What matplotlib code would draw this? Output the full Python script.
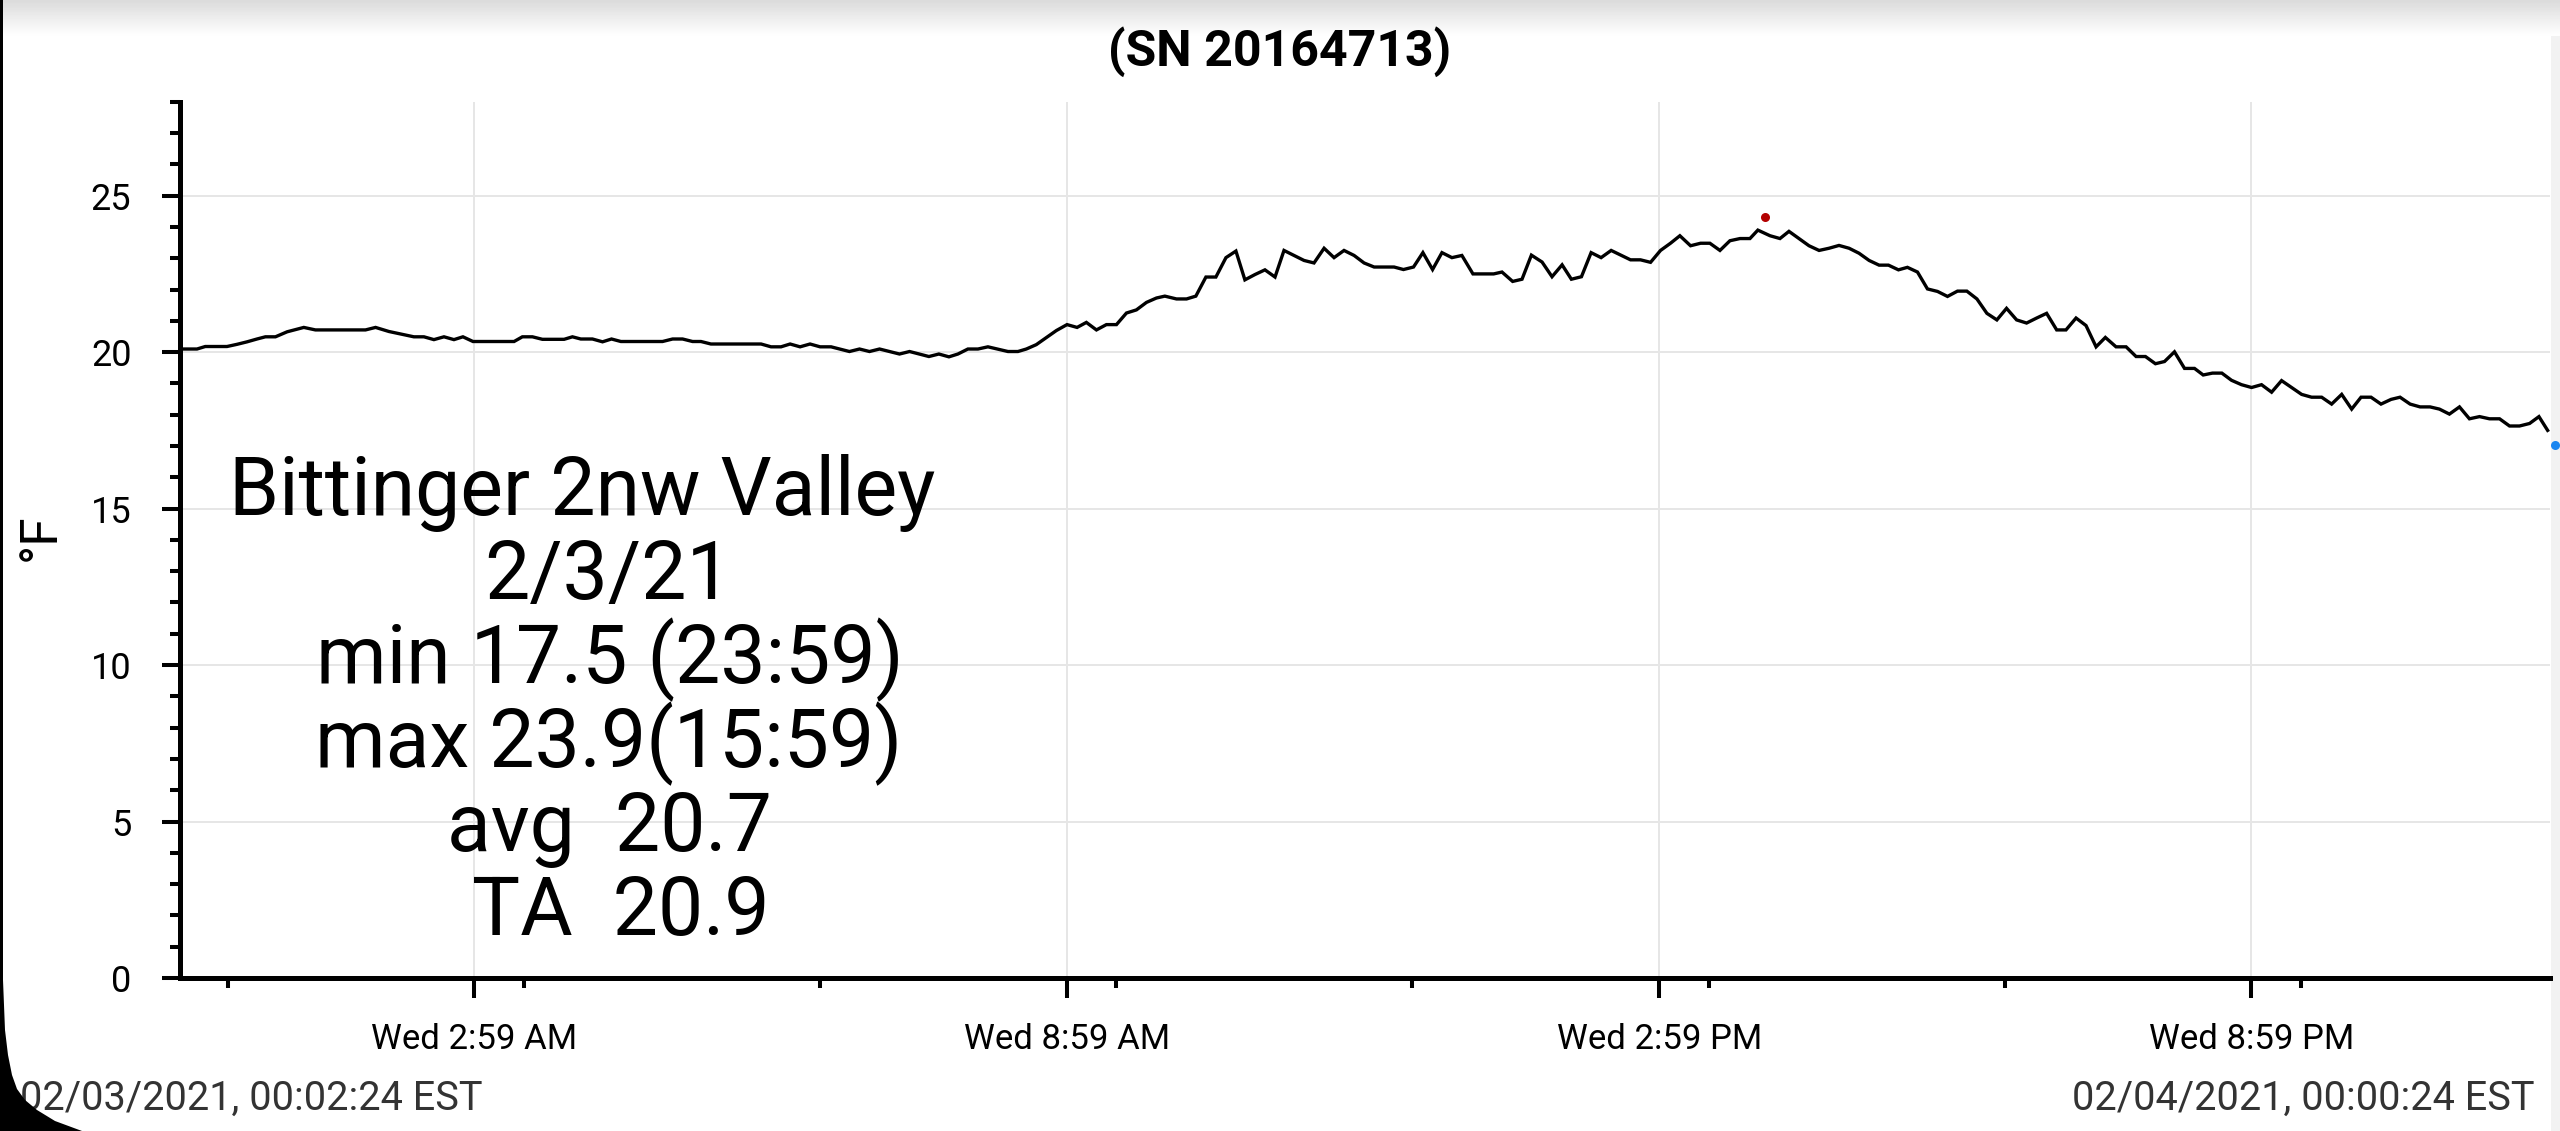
import numpy as np
import matplotlib
matplotlib.use("Agg")
import matplotlib.pyplot as plt
from matplotlib.patches import Rectangle, Polygon

plt.rcParams['font.family'] = ['Roboto', 'DejaVu Sans']

# ---------------- data (hours since midnight, °F) ----------------
hours = [
    0.04, 0.172, 0.256, 0.476, 0.578, 0.68, 0.78, 0.865, 0.967, 1.085, 1.254, 1.372, 1.879, 1.981,
    2.116, 2.369, 2.471, 2.572, 2.674, 2.775, 2.866, 2.968, 3.384, 3.468, 3.570, 3.671, 3.891, 3.975,
    4.06, 4.178, 4.280, 4.371, 4.466, 4.888, 4.990, 5.091, 5.192, 5.277, 5.378, 5.886, 5.987, 6.088,
    6.180, 6.281, 6.382, 6.484, 6.595, 6.781, 6.883, 6.984, 7.086, 7.288, 7.390, 7.586, 7.687, 7.789,
    7.880, 7.981, 8.083, 8.184,
    8.387, 8.488, 8.573, 8.674, 8.877, 8.985, 9.087, 9.181, 9.283, 9.384, 9.486, 9.587, 9.688, 9.790,
    9.891, 9.976, 10.094, 10.196, 10.290, 10.392, 10.493, 10.595, 10.696, 10.787, 10.889, 10.990,
    11.092, 11.183, 11.284, 11.386, 11.487, 11.589, 11.690, 11.791, 11.893, 11.994, 12.096, 12.298,
    12.393,
    12.495, 12.590, 12.688, 12.783, 12.884, 12.985, 13.097, 13.307, 13.391, 13.499, 13.594, 13.689,
    13.797, 13.898, 14.000, 14.094, 14.196, 14.294, 14.395, 14.497, 14.693, 14.794, 14.896, 14.997,
    15.098, 15.193, 15.301, 15.403, 15.497, 15.599, 15.700, 15.802, 15.903, 15.983, 16.106, 16.207,
    16.298, 16.400, 16.501,
    16.603, 16.704, 16.805, 16.907, 17.008, 17.110, 17.211, 17.306, 17.407, 17.498, 17.600, 17.701,
    17.803, 17.904, 18.005, 18.100, 18.202, 18.303, 18.404, 18.502, 18.604, 18.705, 18.807, 18.908,
    19.010, 19.104, 19.206, 19.307, 19.409, 19.503, 19.611, 19.713, 19.814, 19.909, 20.010, 20.102,
    20.203, 20.305, 20.406,
    20.494, 20.588, 20.683, 20.781, 20.882, 20.984, 21.085, 21.187, 21.288, 21.389, 21.491, 21.592,
    21.694, 21.795, 21.897, 21.998, 22.093, 22.194, 22.295, 22.397, 22.488, 22.590, 22.691, 22.792,
    22.887, 22.988, 23.090, 23.191, 23.293, 23.394, 23.496, 23.597, 23.698, 23.800, 23.895, 23.983,
]
temps = [
    20.10, 20.10, 20.18, 20.18, 20.25, 20.33, 20.42, 20.49, 20.49, 20.65, 20.79, 20.71, 20.71, 20.79,
    20.66, 20.49, 20.49, 20.40, 20.49, 20.40, 20.49, 20.34, 20.34, 20.49, 20.49, 20.41, 20.41, 20.49,
    20.42, 20.42, 20.33, 20.42, 20.34, 20.34, 20.42, 20.42, 20.34, 20.34, 20.26, 20.26, 20.17, 20.17,
    20.26, 20.17, 20.26, 20.17, 20.17, 20.02, 20.10, 20.02, 20.10, 19.94, 20.02, 19.86, 19.94, 19.85,
    19.94, 20.10, 20.10, 20.17,
    20.02, 20.02, 20.10, 20.24, 20.69, 20.88, 20.79, 20.95, 20.71, 20.88, 20.88, 21.25, 21.35, 21.59,
    21.73, 21.79, 21.70, 21.70, 21.79, 22.40, 22.40, 23.02, 23.23, 22.31, 22.48, 22.63,
    22.40, 23.25, 23.09, 22.93, 22.85, 23.32, 23.02, 23.25, 23.09, 22.85, 22.72, 22.72,
    22.64,
    22.72, 23.18, 22.64, 23.18, 23.02, 23.09, 22.50, 22.50, 22.56, 22.26, 22.33, 23.10,
    22.88, 22.41, 22.79, 22.33, 22.41, 23.18, 23.02, 23.25, 22.95, 22.95, 22.87, 23.25,
    23.48, 23.72, 23.40, 23.48, 23.48, 23.25, 23.56, 23.63, 23.63, 23.90, 23.72, 23.63,
    23.86, 23.63, 23.40,
    23.25, 23.32, 23.41, 23.32, 23.16, 22.93, 22.78, 22.78, 22.63, 22.71, 22.56, 22.02,
    21.94, 21.78, 21.95, 21.95, 21.70, 21.24, 21.03, 21.40, 21.03, 20.93, 21.09, 21.24,
    20.71, 20.71, 21.09, 20.85, 20.17, 20.47, 20.17, 20.17, 19.86, 19.86, 19.63, 19.70,
    20.01, 19.48, 19.48,
    19.27, 19.33, 19.33, 19.10, 18.96, 18.87, 18.96, 18.72, 19.09, 18.87, 18.65, 18.56,
    18.56, 18.34, 18.65, 18.18, 18.56, 18.56, 18.34, 18.49, 18.56, 18.34, 18.25, 18.25,
    18.18, 18.02, 18.25, 17.87, 17.94, 17.87, 17.87, 17.64, 17.64, 17.72, 17.94, 17.50,
]

max_marker = (16.06, 24.32)   # red dot
min_marker = (24.06, 17.03)   # blue dot (right edge)

x_range = (0.0, 24.007)
y_range = (0, 28)
major_x = [2.983, 8.983, 14.983, 20.983]
major_x_labels = ["Wed 2:59 AM", "Wed 8:59 AM", "Wed 2:59 PM", "Wed 8:59 PM"]
minor_x = [0.483, 3.483, 6.483, 9.483, 12.483, 15.483, 18.483, 21.483]
major_y = [0, 5, 10, 15, 20, 25]
minor_y = list(range(0, 29))

title = "(SN 20164713)"
ylabel = "°F"
info_lines = ["Bittinger 2nw Valley", "2/3/21", "min 17.5 (23:59)", "max 23.9(15:59)",
              "avg  20.7", "TA  20.9"]
start_label = "02/03/2021, 00:02:24 EST"
end_label = "02/04/2021, 00:00:24 EST"

# ---------------- figure ----------------
W, H = 2560, 1131
fig = plt.figure(figsize=(W / 100, H / 100), dpi=100)
fig.patch.set_facecolor("white")

ax_l, ax_r, ax_t, ax_b = 180, 2550, 101.8, 978
ax = fig.add_axes([ax_l / W, 1 - ax_b / H, (ax_r - ax_l) / W, (ax_b - ax_t) / H])

ax.plot(hours, temps, color="black", lw=2.4, solid_joinstyle="miter", zorder=3)
ax.plot([max_marker[0]], [max_marker[1]], 'o', color="#b30000", ms=6.5, mew=0, zorder=4)
ax.plot([min_marker[0]], [min_marker[1]], 'o', color="#1a86f0", ms=6.5, mew=0, zorder=4,
        clip_on=False)

ax.set_xlim(*x_range)
ax.set_ylim(*y_range)

ax.set_xticks(major_x)
ax.set_xticklabels(major_x_labels)
ax.set_xticks(minor_x, minor=True)
ax.set_yticks(major_y)
ax.set_yticks(minor_y, minor=True)

for s in ["top", "right"]:
    ax.spines[s].set_visible(False)
for s in ["left", "bottom"]:
    ax.spines[s].set_linewidth(3.6)
    ax.spines[s].set_color("black")

ax.tick_params(axis="y", which="major", length=13, width=2.9, labelsize=26, pad=22,
               colors="black")
ax.tick_params(axis="y", which="minor", length=7, width=2.9)
ax.tick_params(axis="x", which="major", length=14.5, width=2.9, labelsize=25, pad=18,
               colors="black")
ax.tick_params(axis="x", which="minor", length=7, width=2.9)

ax.grid(True, which="major", color="#e6e6e6", lw=1.4, zorder=0)
ax.set_axisbelow(True)

# info block: one line per text, baselines every 84 px starting at y=515 px
line_x_px = [582, 608, 610, 609, 609, 621]
for i, (line, xp) in enumerate(zip(info_lines, line_x_px)):
    fig.text(xp / W, 1 - (515 + 84 * i) / H, line, ha="center", va="baseline",
             fontsize=58, color="black")

fig.text(1280 / W, 1 - 52 / H, title, ha="center", va="center", fontsize=36,
         fontweight="bold", color="black")
fig.text(41 / W, 1 - 537 / H, ylabel, ha="center", va="center", rotation=90, fontsize=37,
         color="black")
fig.text(20 / W, 1 - 1098 / H, start_label, ha="left", va="center", fontsize=28.5,
         color="#333333")
fig.text(2534 / W, 1 - 1098 / H, end_label, ha="right", va="center", fontsize=28.5,
         color="#333333")

# ---------------- screenshot frame decorations ----------------
grad_ax = fig.add_axes([0, 1 - 36 / H, 1, 36 / H])
grad_ax.axis("off")
g = np.linspace(0.86, 1.0, 64).reshape(-1, 1)
grad_ax.imshow(np.repeat(g, 4, axis=1), cmap="gray", vmin=0, vmax=1, aspect="auto",
               extent=[0, 1, 0, 1], origin="upper")

fig.patches.append(Rectangle((2551 / W, 0), 9 / W, 1, transform=fig.transFigure,
                             facecolor="#f2f2f2", edgecolor="none", zorder=-1))
fig.patches.append(Rectangle((0, 0), 3 / W, 1, transform=fig.transFigure,
                             facecolor="black", edgecolor="none", zorder=6))
corner_px = [(3, 980), (5, 1030), (8, 1055), (12, 1075), (17, 1089), (25, 1100), (37, 1110),
             (55, 1121), (82, 1131)]
pts = [(0, 1 - 980 / H)] + [(x / W, 1 - y / H) for x, y in corner_px] + [(0, 0)]
fig.patches.append(Polygon(pts, closed=True, transform=fig.transFigure,
                           facecolor="black", edgecolor="none", zorder=6))

fig.savefig("out.png", dpi=100, facecolor="white")
